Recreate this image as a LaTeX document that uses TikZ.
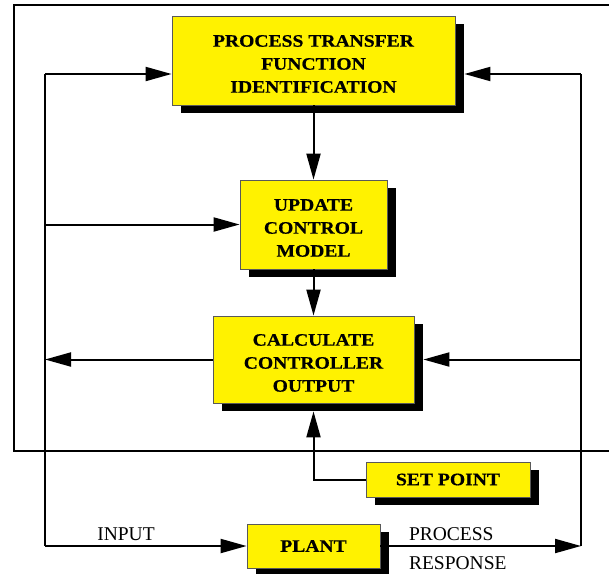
\documentclass[tikz,border=0pt]{standalone}
\usepackage{fontspec}
\setmainfont{Liberation Serif}
\newfontfamily\boxfont{Liberation Serif}[FakeStretch=1.12,FakeBold=0.6]
\newcommand{\topstrut}{\rule{0pt}{18.5pt}}
\usetikzlibrary{arrows.meta,shadows}

\begin{document}
\begin{tikzpicture}[x=1pt, y=-1pt, >={Triangle[length=26pt,width=14pt]},
  line width=2pt,
  blk/.style={draw=black!65, line width=0.8pt, fill=yellow, align=center,
    inner sep=0pt, font=\boxfont\bfseries\fontsize{17.5}{23}\selectfont,
    drop shadow={shadow xshift=9pt, shadow yshift=-8pt, fill=black, opacity=1}},
  lbl/.style={inner sep=0pt, font=\fontsize{19.5}{22}\selectfont}]
  \useasboundingbox (0,0) rectangle (609,573);
  \clip (0,0) rectangle (609,573);
  % outer frame
  \draw (640,5) -- (14,5) -- (14,451) -- (640,451);
  % blocks
  \node[blk, minimum width=283pt, minimum height=89pt] (ptfi) at (313.5,60.5)
    {\topstrut PROCESS TRANSFER\\FUNCTION\\IDENTIFICATION};
  \node[blk, minimum width=147pt, minimum height=89pt] (ucm) at (313.5,224.5)
    {\topstrut UPDATE\\CONTROL\\MODEL};
  \node[blk, minimum width=201pt, minimum height=87pt] (cco) at (313.5,359.5)
    {\topstrut CALCULATE\\CONTROLLER\\OUTPUT};
  \node[blk, minimum width=164pt, minimum height=35pt] (sp) at (448,479.5) {SET POINT};
  \node[blk, minimum width=133pt, minimum height=44pt] (plant) at (313.5,546) {PLANT};
  % bus corners
  \coordinate (lt) at (45,74);
  \coordinate (lb) at (45,546);
  \coordinate (rt) at (581,74);
  \coordinate (rb) at (581,546);
  % left bus: controller output to plant and identification
  \draw (lt) -- (lb);
  \draw[->] (cco.west) -- (cco.west -| lt);
  \draw[->] (lt) -- (lt -| ptfi.west);
  \draw[->] (lt |- ucm.west) -- (ucm.west);
  \draw[->] (lb) -- (plant.west);
  % right bus: process response
  \draw[->] (plant.east) -- (rb);
  \draw (rb) -- (rt);
  \draw[->] (rt) -- ([xshift=9pt]rt -| ptfi.east);
  \draw[->] (rt |- cco.east) -- ([xshift=9pt]cco.east);
  % down the middle
  \draw[->] (ptfi.south) -- (ucm.north);
  \draw[->] (ucm.south) -- (cco.north);
  \draw[->] (sp.west) -| ([yshift=-8pt]cco.south);
  % signal names
  \node[lbl] (inlbl) at (126,534) {INPUT};
  \node[lbl, anchor=west] (resp1) at (408,534) {PROCESS};
  \node[lbl, anchor=west] (resp2) at (408,563) {RESPONSE};
\end{tikzpicture}
\end{document}
